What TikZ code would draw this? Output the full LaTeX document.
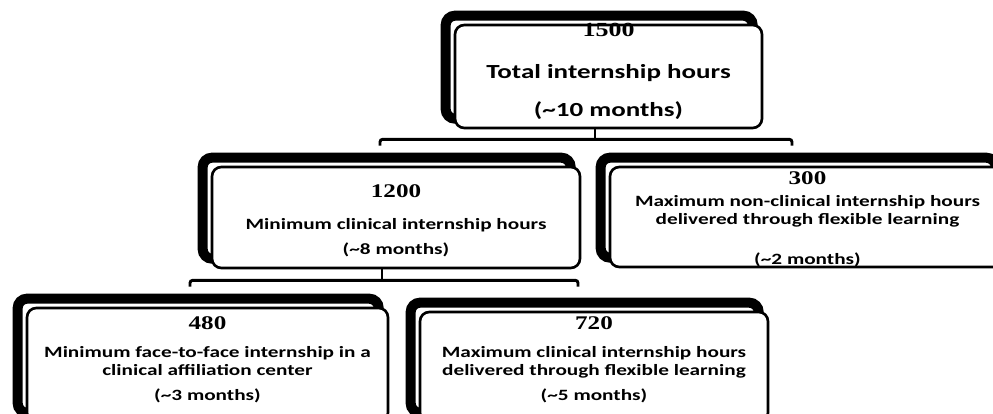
\documentclass[tikz,border=0pt]{standalone}
\usepackage{fontspec}
\setmainfont{Carlito}[FakeStretch=1.35]
\newfontfamily\numfont{Liberation Serif}[FakeStretch=1.3]
\usetikzlibrary{calc,positioning,shadows}

\tikzset{
  box/.style={draw, line width=2pt, rounded corners=7pt, fill=white,
    general shadow={shadow xshift=-7pt, shadow yshift=7pt, draw=black, line width=7.5pt}},
  txt/.style={align=center, inner sep=0pt, font=\bfseries\fontsize{11.8}{13.5}\selectfont},
  conn/.style={line width=2.2pt, rounded corners=2pt},
}

\begin{document}
\begin{tikzpicture}[x=0.75pt,y=-0.75pt]
  \clip (0,0) rectangle (993,414);

  % boxes
  \node[box, minimum width=230.25pt, minimum height=77.25pt] (total) at (608.5,76.5) {};
  \node[box, minimum width=276pt, minimum height=75.75pt] (b1200) at (396,217.5) {};
  \node[box, minimum width=296.25pt, minimum height=75pt] (b300) at (807.5,217) {};
  \node[box, minimum width=270.75pt, minimum height=85.5pt] (b480) at (207.5,365) {};
  \node[box, minimum width=261pt, minimum height=82.5pt] (b720) at (594,367) {};

  % texts
  \node[txt, font=\bfseries\fontsize{15}{28.5}\selectfont, below=-0.5pt of total.north] (total-t)
    {{\numfont\fontsize{15}{15}\selectfont 1500}\\[3pt]Total internship hours\\(\textasciitilde10 months)};
  \node[txt, below=14pt of b1200.north] (b1200-t)
    {{\numfont\fontsize{14.5}{14.5}\selectfont 1200}\\[10.5pt]Minimum clinical internship hours\\[5.25pt](\textasciitilde8 months)};
  \node[txt, below=4.5pt of b300.north] (b300-t)
    {{\numfont\fontsize{14.5}{14.5}\selectfont 300}\\[3pt]Maximum non-clinical internship hours\\delivered through flexible learning\\[16.5pt](\textasciitilde2 months)};
  \node[txt, below=7.25pt of b480.north] (b480-t)
    {{\numfont\fontsize{14.5}{14.5}\selectfont 480}\\[7.5pt]Minimum face-to-face internship in a\\clinical affiliation center\\[5.25pt](\textasciitilde3 months)};
  \node[txt, below=4.5pt of b720.north] (b720-t)
    {{\numfont\fontsize{14.5}{14.5}\selectfont 720}\\[7.5pt]Maximum clinical internship hours\\delivered through flexible learning\\[5.25pt](\textasciitilde5 months)};

  % connectors
  \draw[conn] ($(total.south)+(-13.5,0)$) -- ++(0,10) coordinate (j1);
  \draw[conn] ($(b1200.north)+(-16,-20)$) |- (j1) -| ($(b300.north)+(-15.5,-20)$);
  \draw[conn] ($(b1200.south)+(-14,0)$) -- ++(0,11) coordinate (j2);
  \draw[conn] ($(b480.north)+(-17.5,-20)$) |- (j2) -| ($(b720.north)+(-16,-24)$);
\end{tikzpicture}
\end{document}
